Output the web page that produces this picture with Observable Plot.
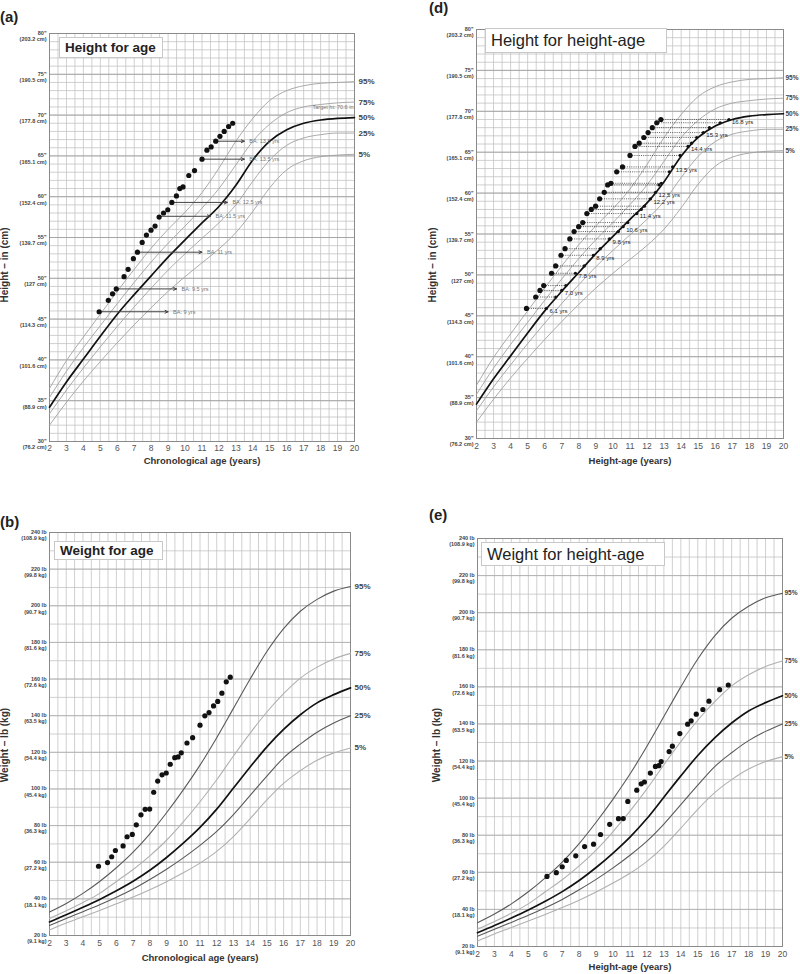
<!DOCTYPE html>
<html><head><meta charset="utf-8">
<script src="https://cdn.jsdelivr.net/npm/d3@7"></script>
<script src="https://cdn.jsdelivr.net/npm/@observablehq/plot@0.6"></script>
<style>
body{margin:0;background:#fff;font-family:"Liberation Sans",Arial,sans-serif;}
#wrap{position:relative;width:800px;height:974px;overflow:hidden;background:#fff;}
.panel{position:absolute;}
.panel svg{display:block;}
.tag{position:absolute;font-weight:bold;font-size:15px;color:#222;line-height:15px;}
.tbox{position:absolute;background:#fff;border:1px solid #c8c8c8;box-sizing:border-box;color:#222;white-space:nowrap;display:flex;align-items:center;padding-left:5px;}
.ytitle{position:absolute;width:140px;height:12px;line-height:12px;text-align:center;transform:rotate(-90deg);font-weight:bold;font-size:10px;white-space:nowrap;color:#333;}
</style></head>
<body>
<div id="wrap">
  <div class="tag" style="left:0;top:9px">(a)</div>
  <div class="tag" style="left:429px;top:0">(d)</div>
  <div class="tag" style="left:0;top:514px">(b)</div>
  <div class="tag" style="left:429px;top:507px">(e)</div>
  <div class="panel" id="pa" style="left:0;top:0"></div>
  <div class="panel" id="pd" style="left:400px;top:0"></div>
  <div class="panel" id="pb" style="left:0;top:500px"></div>
  <div class="panel" id="pe" style="left:400px;top:500px"></div>
  <div class="tbox" style="left:59px;top:37px;width:104px;height:21px;font-weight:bold;font-size:13.5px">Height for age</div>
  <div class="tbox" style="left:485px;top:28px;width:182px;height:25px;font-size:16.5px">Height for height-age</div>
  <div class="tbox" style="left:54px;top:541px;width:109px;height:19px;font-weight:bold;font-size:13.5px">Weight for age</div>
  <div class="tbox" style="left:481px;top:542px;width:184px;height:24px;font-size:16.5px">Weight for height-age</div>
  <div class="ytitle" style="left:-65px;top:259px">Height – in (cm)</div>
  <div class="ytitle" style="left:363px;top:259px">Height – in (cm)</div>
  <div class="ytitle" style="left:-65px;top:739px">Weight – lb (kg)</div>
  <div class="ytitle" style="left:367px;top:739px">Weight – lb (kg)</div>
</div>
<script>
// ---------- reference percentile curves (ages 2..20) ----------
const years = [2,3,4,5,6,7,8,9,10,11,12,13,14,15,16,17,18,19,20];
const pctNames = ["5%","25%","50%","75%","95%"];
// stature (inches)
const hP5  = [32.0,34.8,37.4,39.8,42.1,44.3,46.4,48.4,50.2,51.9,53.6,55.6,58.2,61.1,63.3,64.4,64.9,65.1,65.2];
const hP25 = [33.4,36.3,39.0,41.6,44.1,46.5,48.8,51.0,53.0,54.9,56.8,59.0,61.9,64.5,66.3,67.2,67.6,67.8,67.8];
const hP50 = [34.2,37.3,40.1,42.9,45.6,48.0,50.3,52.6,54.7,56.8,58.8,61.4,64.5,66.8,68.2,69.0,69.4,69.6,69.7];
const hP75 = [35.4,38.6,41.5,44.2,46.9,49.5,52.0,54.3,56.4,58.6,61.0,63.9,66.8,68.9,70.3,71.0,71.3,71.5,71.6];
const hP95 = [36.5,39.9,42.8,45.6,48.4,51.1,53.7,56.0,58.1,60.5,63.5,66.8,69.6,71.8,73.0,73.6,73.9,74.0,74.1];
// weight (lb)
const wP5  = [23.0,26.8,30.2,33.7,37.3,41.0,45.0,49.4,54.2,59.5,65.9,74.0,83.8,94.0,103.0,110.0,115.7,119.7,122.4];
const wP25 = [25.5,29.3,33.0,36.8,40.9,45.4,50.6,56.2,62.4,69.2,76.8,86.0,96.5,107.0,117.0,124.5,131.0,136.0,140.0];
const wP50 = [27.4,31.3,35.4,39.7,44.4,49.6,55.6,62.6,70.4,79.0,89.0,100.5,112.0,123.0,132.5,140.5,147.0,151.5,155.2];
const wP75 = [29.3,33.5,38.0,43.0,49.5,56.0,63.5,72.0,82.0,93.0,105.0,118.0,130.5,142.0,152.0,160.5,166.5,171.0,174.0];
const wP95 = [32.8,37.5,43.0,49.5,57.0,65.5,75.5,87.0,99.5,113.0,128.0,144.0,160.0,175.0,187.5,197.0,203.5,208.0,210.5];

// ---------- patient measurements ----------
const chronoAge = [4.93,5.47,5.72,5.94,6.40,6.64,6.95,7.19,7.47,7.72,7.99,8.23,8.47,8.73,8.98,9.22,9.49,9.69,9.88,10.22,10.56,11.00,11.29,11.54,11.81,12.06,12.31,12.57,12.81];
const heightIn  = [45.9,47.3,48.1,48.7,50.2,51.1,52.4,53.2,54.4,55.3,55.9,56.4,57.5,58.0,58.4,59.3,60.1,61.0,61.2,62.6,63.2,64.6,65.7,66.1,66.8,67.4,68.0,68.6,69.0];
const heightAge = [6.10,6.65,7.00,7.24,7.80,8.32,8.85,9.26,9.80,10.32,10.60,10.87,11.40,11.66,11.85,12.20,12.50,12.70,12.84,13.31,13.50,13.94,14.40,14.61,14.91,15.30,15.66,16.29,16.80];
const weightLb  = [57.8,59.8,63.0,66.4,68.9,73.9,75.2,80.4,85.9,88.9,89.0,98.2,104.3,107.7,108.7,113.5,117.1,117.5,119.7,125.1,128.0,134.8,139.9,141.7,145.3,147.8,152.3,158.5,161.0];

// bone-age arrows (panel a)
const baStartAge = [4.93,5.94,7.19,8.50,9.22,11.00,11.81];
const baHeight   = [45.9,48.7,53.2,57.6,59.3,64.6,66.8];
const boneAge    = [9,9.5,11,11.5,12.5,13.5,13.5];
const baLabels   = ["BA: 9 yrs","BA: 9.5 yrs","BA: 11 yrs","BA: 11.5 yrs","BA: 12.5 yrs","BA: 13.5 yrs","BA: 13.5 yrs"];
const targetHeight = 70.6;

// height-age labels (panel d)
const haLabelIdx = [0,2,4,6,8,10,12,15,16,20,22,25,28];
const haLabels   = ["6.1 yrs","7.0 yrs","7.8 yrs","8.9 yrs","9.8 yrs","10.6 yrs","11.4 yrs","12.2 yrs","12.5 yrs","13.5 yrs","14.4 yrs","15.3 yrs","16.8 yrs"];

// axis ticks
const hTicks = [30,35,40,45,50,55,60,65,70,75,80];
const hTickCm = ["76.2 cm","88.9 cm","101.6 cm","114.3 cm","127 cm","139.7 cm","152.4 cm","165.1 cm","177.8 cm","190.5 cm","203.2 cm"];
const wTicks = [20,40,60,80,100,120,140,160,180,200,220,240];
const wTickKg = ["9.1 kg","18.1 kg","27.2 kg","36.3 kg","45.4 kg","54.4 kg","63.5 kg","72.6 kg","81.6 kg","90.7 kg","99.8 kg","108.9 kg"];

// ---------- tables ----------
function curveRows(arrs){
  const rows=[];
  arrs.forEach((a,k)=>years.forEach((age,i)=>rows.push({age, value:a[i], pct:pctNames[k]})));
  return rows;
}
const hRows = curveRows([hP5,hP25,hP50,hP75,hP95]);
const wRows = curveRows([wP5,wP25,wP50,wP75,wP95]);
const pts = chronoAge.map((a,i)=>({age:a, h:heightIn[i], ha:heightAge[i], w:weightLb[i]}));
const baRows = baStartAge.map((s,i)=>({start:s, h:baHeight[i], ba:boneAge[i], label:baLabels[i]}));
const haLabRows = haLabelIdx.map((k,j)=>({ha:heightAge[k], h:heightIn[k], label:haLabels[j]}));

const FONT = "'Liberation Sans', Arial, sans-serif";
const halfYears = d3.range(2, 20.001, 0.5);

function baseMarks(kind, xTitle, tickDy, titleDy){
  const isH = kind==="h";
  const ticks = isH ? hTicks : wTicks;
  const fmt = isH ? (d,i)=>`${d}"\n(${hTickCm[i]})` : (d,i)=>`${d} lb\n(${wTickKg[i]})`;
  const minor = isH ? d3.range(30,80.001,1) : d3.range(20,240.001,10);
  const marks = [
    Plot.ruleX(halfYears, {stroke:"#c0c0c0", strokeWidth:0.75}),
    Plot.ruleY(minor, {stroke:"#c0c0c0", strokeWidth:0.75}),
  ];
  if (isH) marks.push(Plot.ruleY(hTicks, {stroke:"#a2a2a2", strokeWidth:0.9}));
  else marks.push(Plot.ruleY(wTicks, {stroke:"#adadad", strokeWidth:0.8}));
  marks.push(
    Plot.frame({stroke:"#8a8a8a", strokeWidth:1}),
    Plot.text(ticks, {y:d=>d, frameAnchor:"left", dx:-3, dy:-3, textAnchor:"end", lineAnchor:"top", lineHeight:1.15, text:fmt, fontSize:5.5, fontWeight:"bold", fill:"#444"}),
    Plot.text(years, {x:d=>d, frameAnchor:"bottom", dy:tickDy, text:d=>String(d), fontSize:8.5, fill:"#555"}),
    Plot.text([xTitle], {frameAnchor:"bottom", dy:titleDy, text:d=>d, fontSize:9.5, fontWeight:"bold", fill:"#333"})
  );
  return marks;
}
function curveMarks(kind, labelSize, labelDx){
  const rows = kind==="h" ? hRows : wRows;
  const ends = rows.filter(d=>d.age===20);
  const col = kind==="h"
    ? {"5%":"#a0a0a0","25%":"#a0a0a0","75%":"#a0a0a0","95%":"#a0a0a0"}
    : {"5%":"#b0b0b0","25%":"#5a5a5a","75%":"#b0b0b0","95%":"#5a5a5a"};
  const marks = [];
  for (const p of ["5%","25%","75%","95%"]) {
    marks.push(Plot.line(rows.filter(d=>d.pct===p), {x:"age", y:"value", stroke:col[p], strokeWidth:kind==="h"?0.9:1.1, curve:"monotone-x"}));
  }
  marks.push(Plot.line(rows.filter(d=>d.pct==="50%"), {x:"age", y:"value", stroke:"#111", strokeWidth:1.7, curve:"monotone-x"}));
  marks.push(Plot.text(ends, {x:"age", y:"value", text:"pct", dx:labelDx, textAnchor:"start", fontSize:labelSize, fontWeight:"bold", fill:"#444"}));
  return marks;
}

function make(opts, marks){
  return Plot.plot({
    ...opts,
    x:{domain:[2,20], axis:null},
    style:{fontFamily:FONT, background:"transparent", overflow:"visible"},
    marks
  });
}

// (a) Height for age
document.getElementById("pa").append(make(
  {width:400, height:475, marginTop:33, marginBottom:34, marginLeft:49, marginRight:46, y:{domain:[30,80], axis:null}},
  [
    ...baseMarks("h","Chronological age (years)",9,22),
    ...curveMarks("h",8,4),
    Plot.text([targetHeight], {y:d=>d, frameAnchor:"right", dx:-1, dy:-3, textAnchor:"end", text:d=>`Target ht: ${d} in`, fontSize:5.5, fill:"#777"}),
    Plot.arrow(baRows, {x1:"start", x2:"ba", y1:"h", y2:"h", stroke:"#444", strokeWidth:1, headLength:5, headAngle:50}),
    Plot.text(baRows, {x:"ba", y:"h", text:"label", dx:5, textAnchor:"start", fontSize:5.5, fill:"#777"}),
    Plot.dot(pts, {x:"age", y:"h", r:2.6, fill:"#111"})
  ]
));

// (d) Height for height-age
document.getElementById("pd").append(make(
  {width:400, height:475, marginTop:29, marginBottom:37, marginLeft:76, marginRight:17, y:{domain:[30,80], axis:null}},
  [
    ...baseMarks("h","Height-age (years)",10,25),
    ...curveMarks("h",6.5,2),
    Plot.link(pts, {x1:"age", x2:"ha", y1:"h", y2:"h", stroke:"#333", strokeWidth:0.8, strokeDasharray:"1,1.2"}),
    Plot.dot(pts, {x:"ha", y:"h", r:1.6, fill:"#111"}),
    Plot.text(haLabRows, {x:"ha", y:"h", text:"label", dx:3, dy:3, textAnchor:"start", fontSize:6, fill:"#222"}),
    Plot.dot(pts, {x:"age", y:"h", r:2.6, fill:"#111"})
  ]
));

// (b) Weight for age
document.getElementById("pb").append(make(
  {width:400, height:474, marginTop:32, marginBottom:39, marginLeft:49, marginRight:50, y:{domain:[20,240], axis:null}},
  [
    ...baseMarks("w","Chronological age (years)",10,25),
    ...curveMarks("w",8,4),
    Plot.dot(pts, {x:"age", y:"w", r:2.6, fill:"#111"})
  ]
));

// (e) Weight for height-age
document.getElementById("pe").append(make(
  {width:400, height:474, marginTop:38, marginBottom:28, marginLeft:77, marginRight:18, y:{domain:[20,240], axis:null}},
  [
    ...baseMarks("w","Height-age (years)",10,23),
    ...curveMarks("w",6.5,2),
    Plot.dot(pts, {x:"ha", y:"w", r:2.6, fill:"#111"})
  ]
));
</script>
</body></html>
